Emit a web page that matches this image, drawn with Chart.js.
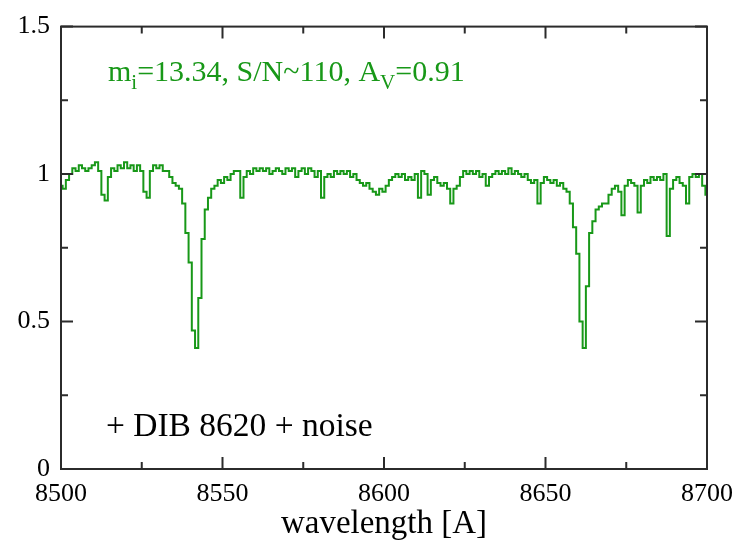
<!DOCTYPE html>
<html lang="en">
<head>
    <meta charset="UTF-8">
    <title>Spectrum 8500-8700</title>
    <script src="https://cdn.jsdelivr.net/npm/chart.js@4.4.0/dist/chart.umd.min.js"></script>
    <style>
        body{
            margin: 0;
            background-color: white;
        }
        #spec {
            display: block;
        }
    </style>
</head>
<body>
    <canvas id="spec" width="743" height="544"></canvas>
    <script>
        // flux, one value per Angstrom, 8500..8700
        var flux = [
            0.96, 0.95, 0.98, 1.00, 1.02, 1.01, 1.03, 1.02, 1.01, 1.02,
            1.03, 1.04, 1.01, 0.93, 0.91, 0.99, 1.02, 1.01, 1.03, 1.02,
            1.04, 1.02, 1.03, 1.01, 1.03, 1.01, 0.94, 0.92, 1.01, 1.03,
            1.02, 1.03, 1.01, 1.01, 0.99, 0.97, 0.96, 0.95, 0.90, 0.80,
            0.70, 0.47, 0.41, 0.58, 0.78, 0.88, 0.92, 0.95, 0.96, 0.98,
            0.97, 0.99, 0.98, 1.00, 1.01, 1.01, 0.92, 0.99, 1.01, 1.00,
            1.02, 1.01, 1.02, 1.01, 1.02, 1.00, 1.01, 1.02, 1.01, 1.00,
            1.02, 1.01, 1.02, 0.99, 1.01, 1.02, 1.00, 1.02, 1.01, 0.99,
            1.01, 0.92, 0.99, 1.00, 0.99, 1.01, 1.00, 1.01, 1.00, 1.01,
            0.99, 1.00, 0.98, 0.97, 0.96, 0.97, 0.95, 0.94, 0.93, 0.95,
            0.94, 0.96, 0.98, 0.99, 1.00, 0.99, 1.00, 0.98, 0.99, 0.98,
            1.00, 0.92, 1.01, 1.00, 0.93, 0.98, 0.99, 0.97, 0.96, 0.97,
            0.95, 0.90, 0.95, 0.96, 0.99, 1.01, 1.00, 1.01, 1.00, 1.01,
            0.99, 1.00, 0.96, 0.99, 1.00, 1.01, 1.00, 1.01, 1.00, 1.02,
            1.00, 1.01, 1.00, 0.99, 1.00, 0.98, 0.97, 0.98, 0.90, 0.97,
            0.99, 0.98, 0.97, 0.98, 0.96, 0.97, 0.95, 0.94, 0.90, 0.82,
            0.73, 0.50, 0.41, 0.62, 0.80, 0.84, 0.88, 0.89, 0.90, 0.90,
            0.93, 0.95, 0.96, 0.94, 0.86, 0.96, 0.98, 0.97, 0.96, 0.87,
            0.96, 0.98, 0.97, 0.99, 0.98, 0.99, 0.98, 1.00, 0.79, 0.95,
            0.98, 0.99, 0.97, 0.96, 0.90, 0.99, 1.00, 0.99, 1.00, 0.96,
            0.93
        ];
        var waveStart = 8500;
        var xMajor = [8500, 8550, 8600, 8650, 8700];
        var xMinor = [8525, 8575, 8625, 8675];
        var yMajor = [0, 0.5, 1, 1.5];
        var yMinor = [0.25, 0.75, 1.25];
        var topNote = ['m', 'i', '=13.34, S/N~110, A', 'V', '=0.91'];
        var bottomNote = '+ DIB 8620 + noise';

        var points = flux.map(function(f, i) {
            return {x: waveStart + i, y: f};
        });

        var green = '#189818';
        var axisColor = '#2b2b2b';
        var serif = '"Liberation Serif", "Times New Roman", Times, serif';

        // frame on top/right, inward ticks on all sides, and the two notes
        var framePlugin = {
            id: 'frame',
            afterDraw: function(chart) {
                var ctx = chart.ctx;
                var a = chart.chartArea;
                var xs = chart.scales.x, ys = chart.scales.y;
                ctx.save();
                ctx.strokeStyle = axisColor;
                ctx.lineWidth = 2;
                ctx.strokeRect(a.left, a.top, a.right - a.left, a.bottom - a.top);
                ctx.beginPath();
                function xt(v, len) {
                    var px = xs.getPixelForValue(v);
                    ctx.moveTo(px, a.bottom); ctx.lineTo(px, a.bottom - len);
                    ctx.moveTo(px, a.top); ctx.lineTo(px, a.top + len);
                }
                function yt(v, len) {
                    var py = ys.getPixelForValue(v);
                    ctx.moveTo(a.left, py); ctx.lineTo(a.left + len, py);
                    ctx.moveTo(a.right, py); ctx.lineTo(a.right - len, py);
                }
                xMajor.forEach(function(v) { xt(v, 12); });
                xMinor.forEach(function(v) { xt(v, 7); });
                yMajor.forEach(function(v) { yt(v, 12); });
                yMinor.forEach(function(v) { yt(v, 7); });
                ctx.stroke();

                // green note with subscripts
                ctx.fillStyle = green;
                ctx.textBaseline = 'alphabetic';
                var big = '30px ' + serif, small = '21px ' + serif;
                var x = 108, base = 81;
                topNote.forEach(function(part, i) {
                    var sub = (i % 2 === 1);
                    ctx.font = sub ? small : big;
                    ctx.fillText(part, x, sub ? base + 8 : base);
                    x += ctx.measureText(part).width;
                });

                ctx.fillStyle = 'black';
                ctx.font = '33.5px ' + serif;
                ctx.fillText(bottomNote, 106, 436);
                ctx.restore();
            }
        };

        function draw() {
            new Chart(document.getElementById('spec').getContext('2d'), {
                type: 'line',
                data: {
                    datasets: [{
                        data: points,
                        borderColor: green,
                        borderWidth: 2,
                        pointRadius: 0,
                        stepped: 'middle',
                        fill: false
                    }]
                },
                options: {
                    responsive: false,
                    animation: false,
                    layout: {padding: {top: 21, right: 32, left: 0, bottom: 0}},
                    plugins: {
                        legend: {display: false},
                        tooltip: {enabled: false}
                    },
                    scales: {
                        x: {
                            type: 'linear',
                            min: 8500,
                            max: 8700,
                            afterFit: function(s) { s.height = 75; },
                            grid: {display: false, drawTicks: false},
                            border: {display: false},
                            ticks: {
                                stepSize: 50,
                                padding: 10,
                                color: 'black',
                                font: {family: serif, size: 26},
                                callback: function(v) { return String(v); }
                            },
                            title: {
                                display: true,
                                text: 'wavelength [A]',
                                color: 'black',
                                font: {family: serif, size: 33},
                                padding: {top: 0, bottom: 0}
                            }
                        },
                        y: {
                            min: 0,
                            max: 1.5,
                            afterFit: function(s) { s.width = 61; },
                            grid: {display: false, drawTicks: false},
                            border: {display: false},
                            ticks: {
                                stepSize: 0.5,
                                padding: 11,
                                color: 'black',
                                font: {family: serif, size: 26},
                                callback: function(v) { return String(v); }
                            }
                        }
                    }
                },
                plugins: [framePlugin]
            });
        }

        if (document.fonts && document.fonts.load) {
            document.fonts.load('26px ' + serif).then(draw, draw);
        } else {
            draw();
        }
    </script>
</body>
</html>
